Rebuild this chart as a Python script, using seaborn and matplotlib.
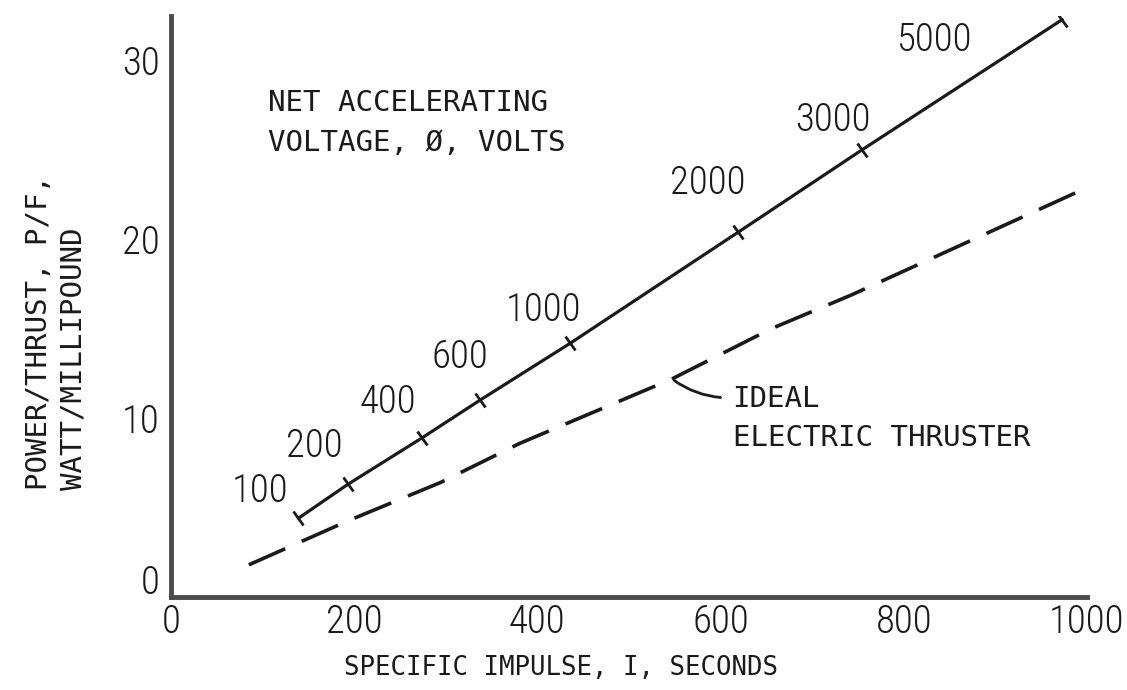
import os
import numpy as np
import pandas as pd
import matplotlib
matplotlib.use("Agg")
import matplotlib.pyplot as plt
from matplotlib.markers import MarkerStyle
from matplotlib.transforms import Affine2D, ScaledTranslation
from matplotlib import font_manager as fm
import seaborn as sns

# ---------------- data ----------------
voltage_labels = ["100", "200", "400", "600", "1000", "2000", "3000", "5000"]
thruster_isp = [139, 193, 274, 337, 436, 619, 754, 973]
thruster_pf = [4.4, 6.3, 8.9, 11.0, 14.2, 20.4, 25.0, 32.3]

ideal_isp = [85, 195, 294, 381, 547, 655, 743, 1000]
ideal_pf = [1.8, 4.3, 6.4, 8.6, 12.2, 15.0, 16.9, 22.9]

x_ticks = [0, 200, 400, 600, 800, 1000]
y_ticks = [0, 10, 20, 30]

# label offsets (pixels) of the voltage numbers relative to their tick marks
label_offsets = [(-38, 27), (-33, 38), (-34, 36), (-20, 43), (-27, 33), (-30, 49), (-29, 30), (-129, -21)]

# ---------------- style ----------------
sns.set_theme(style="white")
plt.rcParams["font.family"] = ["DejaVu Sans"]
mono = ["DejaVu Sans Mono"]

# look for an installed narrow / condensed sans face for the tall digits
prefs = ["NotoSans-ExtraCondensedLight.", "NotoSans-ExtraCondensed.", "NotoSans-ExtraCondensed-",
         "RobotoCondensed-Light", "LiberationSansNarrow-Regular",
         "RobotoCondensed-Regular", "Roboto_Condensed-Regular", "NotoSans-Condensed.",
         "NotoSans-Condensed-", "DejaVuSansCondensed.", "OpenSans-Condensed"]
num_prop = None
names = {os.path.basename(f.fname): f.fname for f in fm.fontManager.ttflist}
for pref in prefs:
    hits = sorted(n for n in names if n.startswith(pref) and "Italic" not in n and "Bold" not in n)
    if hits:
        num_prop = fm.FontProperties(fname=names[hits[0]], size=28)
        break
if num_prop is None:
    num_prop = fm.FontProperties(family="DejaVu Sans", size=21)

ink = "#1a1a1a"
fig = plt.figure(figsize=(11.27, 6.90), dpi=100)
W, H = 1127, 690
ax = fig.add_axes([171 / W, (H - 597) / H, 916 / W, 581 / H])

df_t = pd.DataFrame({"isp": thruster_isp, "pf": thruster_pf})
df_i = pd.DataFrame({"isp": ideal_isp, "pf": ideal_pf})

sns.lineplot(data=df_t, x="isp", y="pf", ax=ax, color=ink, lw=2.3, sort=True)
sns.lineplot(data=df_i, x="isp", y="pf", ax=ax, color=ink, lw=2.6,
             linestyle=(0, (11, 5)), sort=True)

tick_marker = MarkerStyle("|", transform=Affine2D().rotate_deg(33))
ax.plot(df_t["isp"], df_t["pf"], linestyle="none", marker=tick_marker,
        ms=12, mew=2.0, color=ink)

for lab, xi, yi, off in zip(voltage_labels, thruster_isp, thruster_pf, label_offsets):
    ax.annotate(lab, xy=(xi, yi), xytext=off, textcoords="offset pixels",
                ha="center", va="center", color=ink, fontproperties=num_prop)

ax.set_xlim(0, 1000)
ax.set_ylim(0, 32.5)
ax.set_xticks(x_ticks)
ax.set_yticks(y_ticks)
ax.set_xticklabels([str(t) for t in x_ticks], color=ink, fontproperties=num_prop)
ax.set_yticklabels([str(t) for t in y_ticks], color=ink, fontproperties=num_prop)
ax.tick_params(axis="both", direction="in", length=9, width=2, color="#333333", pad=8)
ax.tick_params(axis="x", pad=5)

# the scanned original shows the y "0" raised above the corner
ylab0 = ax.get_yticklabels()[0]
ylab0.set_transform(ylab0.get_transform() + ScaledTranslation(0, 18 / 100, fig.dpi_scale_trans))

for side in ["top", "right"]:
    ax.spines[side].set_visible(False)
for side in ["left", "bottom"]:
    ax.spines[side].set_color("#4a4a4a")
    ax.spines[side].set_linewidth(3.5)

ax.set_xlabel("SPECIFIC IMPULSE, I, SECONDS", fontsize=18.5, family=mono, color=ink)
ax.xaxis.label.set_va("center")
ax.xaxis.set_label_coords(0.426, -0.122)

ax.set_ylabel("POWER/THRUST, P/F,\nWATT/MILLIPOUND", fontsize=21, family=mono,
              color=ink, multialignment="left", linespacing=1.3)
ax.yaxis.label.set_va("center")
ax.yaxis.set_label_coords(-0.1255, 0.456)

ax.text(106, 28.4, "NET ACCELERATING\nVOLTAGE, \u00d8, VOLTS", fontsize=21, family=mono,
        color=ink, ha="left", va="top", linespacing=1.55)

ax.annotate("", xy=(547, 12.2), xytext=(603, 11.15),
            arrowprops=dict(arrowstyle="-", color=ink, lw=2,
                            connectionstyle="arc3,rad=-0.15"))
ax.text(613, 11.85, "IDEAL\nELECTRIC THRUSTER", fontsize=21, family=mono,
        color=ink, ha="left", va="top", linespacing=1.5)

fig.savefig("out.png", dpi=100, facecolor="white")
